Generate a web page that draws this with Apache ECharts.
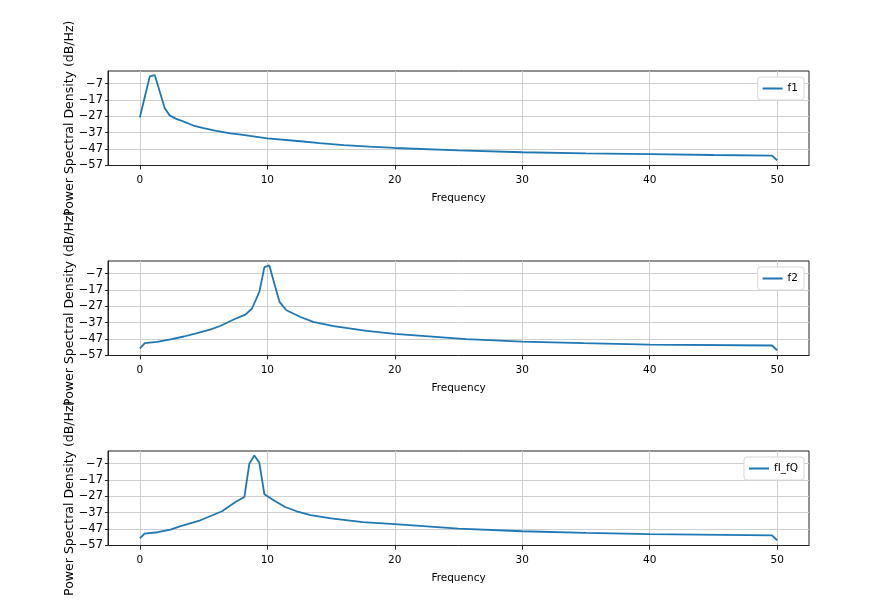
<!DOCTYPE html>
<html>
<head>
<meta charset="utf-8">
<script src="https://cdn.jsdelivr.net/npm/echarts@6.0.0/dist/echarts.min.js"></script>
<style>
  html, body { margin: 0; padding: 0; background: #fff; }
  #chart { width: 890px; height: 610px; }
</style>
</head>
<body>
<div id="chart"></div>
<script>
// values (frequency in Hz, PSD in dB/Hz)
const f1Freq = [0, 0.39, 0.78, 1.17, 1.95, 2.34, 2.8, 3.5, 4.2, 5.0, 6.0, 7.1, 7.8, 10, 12.6, 14.1, 16, 18, 20, 25, 30, 35, 40, 45, 49.6, 50];
const f1Psd  = [-27.6, -15, -2.6, -1.8, -22, -26.4, -28.4, -30.4, -32.6, -34.2, -35.8, -37.4, -38, -40.5, -42.2, -43.4, -44.5, -45.5, -46.3, -47.8, -48.9, -49.6, -50.0, -50.6, -51.0, -53.8];

const f2Freq = [0, 0.39, 1.35, 2.4, 3.45, 4.5, 5.5, 6.3, 7.36, 8.28, 8.8, 9.38, 9.77, 10.16, 10.55, 10.96, 11.5, 12.6, 13.6, 15.2, 17.8, 20, 25.6, 30, 34.8, 40, 49.6, 50];
const f2Psd  = [-52.7, -49.5, -48.7, -47.2, -45.4, -43.3, -41.2, -39, -35, -32, -28.3, -18, -3, -2, -13, -24.3, -29.4, -33.5, -36.5, -39.1, -42, -43.8, -47, -48.5, -49.5, -50.3, -50.9, -53.8];

const f3Freq = [0, 0.37, 1.4, 2.4, 3.2, 4.75, 6.45, 7.5, 8.2, 8.59, 8.98, 9.37, 9.77, 10.5, 11.4, 12.3, 13.4, 15, 17.5, 20, 25, 30, 35, 40, 49.6, 50];
const f3Psd  = [-52.7, -49.7, -48.9, -47.3, -45.2, -41.6, -36.1, -30.4, -27.4, -7, -2, -6.4, -25.7, -29.4, -33.5, -36.1, -38.5, -40.5, -42.7, -44, -46.7, -48.3, -49.3, -50, -50.8, -53.8];

const seriesNames = ['f1', 'f2', 'fI_fQ'];
const xTicks = [0, 10, 20, 30, 40, 50];
const yTicks = [-57, -47, -37, -27, -17, -7];

const panels = [
  { name: seriesNames[0], freq: f1Freq, psd: f1Psd },
  { name: seriesNames[1], freq: f2Freq, psd: f2Psd },
  { name: seriesNames[2], freq: f3Freq, psd: f3Psd },
];

const FONT = 'DejaVu Sans';
const FS = 10.5;
const panelTop = [71, 261, 451];
const panelH = 94.5;

const grid = [], xAxis = [], yAxis = [], series = [], legend = [];

panels.forEach((p, i) => {
  grid.push({
    left: 108,
    width: 701,
    top: panelTop[i],
    height: panelH,
    show: true,
    borderColor: '#222',
    borderWidth: 1,
    outerBoundsMode: 'none',
  });
  xAxis.push({
    type: 'value',
    gridIndex: i,
    min: -2.5,
    max: 52.5,
    name: 'Frequency',
    nameLocation: 'middle',
    nameGap: 27,
    nameMoveOverlap: false,
    nameTextStyle: { color: '#000', fontFamily: FONT, fontSize: FS },
    axisLine: { show: true, onZero: false, lineStyle: { color: '#222', width: 1 } },
    axisTick: { show: true, customValues: xTicks, length: 4, lineStyle: { color: '#222' } },
    axisLabel: { customValues: xTicks, margin: 9, color: '#000', fontFamily: FONT, fontSize: FS },
    splitLine: { show: true, lineStyle: { color: '#cfcfcf', width: 1 } },
  });
  yAxis.push({
    type: 'value',
    gridIndex: i,
    min: -57,
    max: 0.7,
    name: 'Power Spectral Density (dB/Hz)',
    nameLocation: 'middle',
    nameRotate: 90,
    nameGap: 32,
    nameMoveOverlap: false,
    nameTextStyle: { color: '#000', fontFamily: FONT, fontSize: 12.5 },
    axisLine: { show: true, onZero: false, lineStyle: { color: '#222', width: 1 } },
    axisTick: { show: true, customValues: yTicks, length: 3, lineStyle: { color: '#222' } },
    axisLabel: {
      customValues: yTicks,
      margin: 5,
      color: '#000',
      fontFamily: FONT,
      fontSize: 11.5,
      formatter: (v) => String(v).replace('-', '\u2212'),
    },
    splitLine: { show: true, lineStyle: { color: '#cfcfcf', width: 1 } },
  });
  series.push({
    name: p.name,
    type: 'line',
    xAxisIndex: i,
    yAxisIndex: i,
    symbol: 'none',
    showSymbol: false,
    lineStyle: { color: '#1f77b4', width: 1.8 },
    itemStyle: { color: '#1f77b4' },
    data: p.freq.map((f, k) => [f, p.psd[k]]),
  });
  legend.push({
    data: [p.name],
    right: 86,
    top: panelTop[i] + 6,
    icon: 'rect',
    itemWidth: 20,
    itemHeight: 2,
    padding: [6, 6, 6, 5],
    backgroundColor: '#fff',
    borderColor: '#d8d8d8',
    borderWidth: 1,
    borderRadius: 3,
    selectedMode: false,
    textStyle: { color: '#000', fontFamily: FONT, fontSize: FS },
  });
});

const option = {
  animation: false,
  backgroundColor: '#fff',
  grid,
  xAxis,
  yAxis,
  legend,
  series,
};

const myChart = echarts.init(document.getElementById('chart'));
myChart.setOption(option);
</script>
</body>
</html>
